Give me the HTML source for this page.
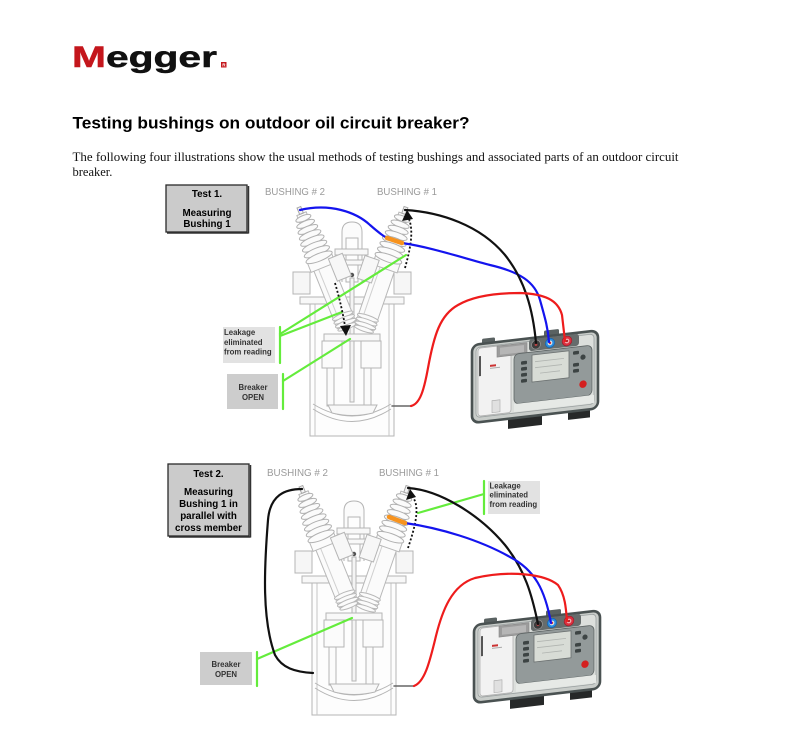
<!DOCTYPE html>
<html><head><meta charset="utf-8"><style>
html,body{margin:0;padding:0;background:#fff;}
svg{display:block;}
</style></head><body>
<svg width="787" height="729" viewBox="0 0 787 729" xmlns="http://www.w3.org/2000/svg">
<defs>
<g id="bush">
  <rect x="-10" y="58" width="20" height="66" fill="#fbfbfb" stroke="#b8b8b8"/>
  <line x1="-5" y1="62" x2="-5" y2="118" stroke="#d0d0d0"/>
  <ellipse cx="0" cy="114" rx="11" ry="2.4" fill="#fbfbfb" stroke="#b8b8b8"/>
  <ellipse cx="0" cy="118" rx="11" ry="2.4" fill="#fbfbfb" stroke="#b8b8b8"/>
  <ellipse cx="0" cy="122" rx="11" ry="2.4" fill="#fbfbfb" stroke="#b8b8b8"/>
  <ellipse cx="0" cy="126" rx="10" ry="2.2" fill="#fbfbfb" stroke="#b8b8b8"/>
  <rect x="-13" y="52" width="26" height="10" fill="#fbfbfb" stroke="#b8b8b8"/>
  <rect x="-5" y="4" width="10" height="50" fill="#fbfbfb" stroke="#b8b8b8"/>
  <ellipse cx="0" cy="9" rx="8" ry="2.8" fill="#fbfbfb" stroke="#b0b0b0"/>
  <ellipse cx="0" cy="15" rx="9.5" ry="3" fill="#fbfbfb" stroke="#b0b0b0"/>
  <ellipse cx="0" cy="21" rx="10.5" ry="3.2" fill="#fbfbfb" stroke="#b0b0b0"/>
  <ellipse cx="0" cy="27" rx="11.5" ry="3.4" fill="#fbfbfb" stroke="#b0b0b0"/>
  <ellipse cx="0" cy="33" rx="12.5" ry="3.5" fill="#fbfbfb" stroke="#b0b0b0"/>
  <ellipse cx="0" cy="39" rx="13" ry="3.6" fill="#fbfbfb" stroke="#b0b0b0"/>
  <ellipse cx="0" cy="45" rx="13.5" ry="3.7" fill="#fbfbfb" stroke="#b0b0b0"/>
  <ellipse cx="0" cy="51" rx="14" ry="3.8" fill="#fbfbfb" stroke="#b0b0b0"/>
  <rect x="-2" y="-3" width="4" height="7" fill="#f4f4f4" stroke="#a8a8a8"/>
</g>
<g id="brk">
  <rect x="310" y="300" width="84" height="136" fill="#fdfdfd" stroke="#b5b5b5"/>
  <line x1="315" y1="304" x2="315" y2="436" stroke="#c5c5c5"/>
  <line x1="389" y1="304" x2="389" y2="436" stroke="#c5c5c5"/>
  <rect x="300" y="297" width="104" height="7" fill="#f8f8f8" stroke="#b5b5b5"/>
  <rect x="293" y="272" width="17" height="22" fill="#f6f6f6" stroke="#b5b5b5"/>
  <rect x="394" y="272" width="17" height="22" fill="#f6f6f6" stroke="#b5b5b5"/>
  <path d="M342,282 V232 Q342,222 352,222 Q362,222 362,232 V282" fill="#fbfbfb" stroke="#b5b5b5"/>
  <rect x="346" y="238" width="12" height="44" fill="#fdfdfd" stroke="#b5b5b5"/>
  <rect x="335" y="249" width="33" height="6" fill="#f8f8f8" stroke="#b5b5b5"/>
  <rect x="339" y="260" width="26" height="5" fill="#f8f8f8" stroke="#b5b5b5"/>
  <rect x="350" y="278" width="4" height="124" fill="#f4f4f4" stroke="#b5b5b5"/>
  <circle cx="352" cy="275" r="2.2" fill="#555"/>
  <rect x="324" y="334" width="56" height="7" fill="#f8f8f8" stroke="#b5b5b5"/>
  <rect x="322" y="341" width="20" height="27" fill="#fbfbfb" stroke="#b5b5b5"/>
  <rect x="361" y="341" width="20" height="27" fill="#fbfbfb" stroke="#b5b5b5"/>
  <rect x="327" y="368" width="7" height="38" fill="#fbfbfb" stroke="#b5b5b5"/>
  <rect x="364" y="368" width="7" height="38" fill="#fbfbfb" stroke="#b5b5b5"/>
  <path d="M313,404 Q352,428 391,404" fill="none" stroke="#b5b5b5"/>
  <path d="M313,409 Q352,434 391,409" fill="none" stroke="#b5b5b5"/>
  <path d="M328,405 L377,405 L373,413 Q352,418 332,413 Z" fill="#f8f8f8" stroke="#b5b5b5"/>
  <g transform="translate(300,210) rotate(-22)">
    <use href="#bush"/>
    <rect x="8" y="56" width="15" height="24" fill="#f7f7f7" stroke="#b5b5b5"/>
  </g>
  <g transform="translate(405,210) rotate(19)">
    <use href="#bush"/>
    <rect x="-23" y="56" width="15" height="24" fill="#f7f7f7" stroke="#b5b5b5"/>
  </g>
</g>
<g id="meter">
  <g transform="translate(472,345) skewY(-6.6)">
    <rect x="36" y="66" width="34" height="22" fill="#262828"/>
    <rect x="96" y="66" width="22" height="20" fill="#262828"/>
    <rect x="10" y="-5" width="13" height="7" rx="1.5" fill="#5a6262"/>
    <rect x="72" y="-6" width="15" height="7" rx="1.5" fill="#5a6262"/>
    <rect x="0" y="0" width="126" height="78" rx="7" fill="#c9cdca" stroke="#4a5252" stroke-width="2.6"/>
    <rect x="4" y="3" width="118" height="70" rx="4" fill="#dcdfdc" stroke="#9aa0a0" stroke-width="0.8"/>
    <rect x="6" y="4" width="33" height="68" rx="3" fill="#f2f2f2" stroke="#b0b0b0" stroke-width="0.8"/>
    <rect x="7" y="12" width="2" height="20" fill="#555"/>
    <rect x="18" y="22" width="6" height="2" fill="#c33"/>
    <rect x="18" y="25" width="10" height="1" fill="#aaa"/>
    <rect x="25" y="4" width="30" height="11" fill="#9c9c9c" stroke="#888" stroke-width="0.6"/>
    <rect x="28" y="6" width="24" height="7" fill="#b6b6b6"/>
    <rect x="57" y="1" width="50" height="12" rx="3" fill="#666c6c"/>
    <circle cx="64" cy="7" r="4.5" fill="#3c3c3c" stroke="#999" stroke-width="0.7"/>
    <circle cx="64" cy="7" r="1.4" fill="#b44"/>
    <circle cx="78" cy="7" r="4.6" fill="#2b8ee0" stroke="#1464b0" stroke-width="0.7"/>
    <circle cx="78" cy="7" r="2.4" fill="#e4e4e4"/>
    <circle cx="78" cy="7" r="1.2" fill="#c33"/>
    <circle cx="95" cy="7" r="4.8" fill="#dc3040" stroke="#a01c28" stroke-width="0.7"/>
    <circle cx="95" cy="7" r="2.4" fill="#f2b0b0"/>
    <circle cx="95" cy="7" r="1.1" fill="#b01820"/>
    <rect x="42" y="14" width="78" height="50" rx="5" fill="#939a9a" stroke="#5d6464" stroke-width="0.8"/>
    <rect x="60" y="17" width="37" height="27" fill="#d8dcd6" stroke="#6b7070" stroke-width="0.8"/>
    <line x1="63" y1="24" x2="92" y2="24" stroke="#b0b4b0" stroke-width="0.8"/>
    <line x1="63" y1="30" x2="90" y2="30" stroke="#b0b4b0" stroke-width="0.8"/>
    <line x1="68" y1="36" x2="88" y2="36" stroke="#b0b4b0" stroke-width="0.8"/>
    <rect x="49" y="22" width="6" height="3.5" rx="1" fill="#3d4444"/>
    <rect x="49" y="28" width="6" height="3.5" rx="1" fill="#3d4444"/>
    <rect x="49" y="34" width="6" height="3.5" rx="1" fill="#3d4444"/>
    <rect x="49" y="40" width="6" height="3.5" rx="1" fill="#3d4444"/>
    <rect x="101" y="18" width="6" height="3.5" rx="1" fill="#3d4444"/>
    <rect x="101" y="30" width="6" height="3.5" rx="1" fill="#3d4444"/>
    <rect x="101" y="36" width="6" height="3.5" rx="1" fill="#3d4444"/>
    <circle cx="111" cy="25" r="2.6" fill="#3d4444"/>
    <circle cx="111" cy="52" r="3.7" fill="#d42020"/>
    <rect x="42" y="64" width="80" height="8" fill="#e6e9e6"/>
    <rect x="20" y="58" width="8" height="12" fill="#e0e0e0" stroke="#aaa" stroke-width="0.6"/>
  </g>
</g>
</defs>

<!-- Logo -->
<text x="72" y="67" font-family="Liberation Sans, Arial, sans-serif" font-weight="bold" font-size="29.5" textLength="145" lengthAdjust="spacingAndGlyphs" stroke-width="0.5"><tspan fill="#c4161c" stroke="#c4161c">M</tspan><tspan fill="#111" stroke="#111">egger</tspan></text>
<rect x="221" y="62" width="5.5" height="5.5" fill="#c4161c"/>
<text x="222.2" y="66.5" font-family="Liberation Sans, sans-serif" font-size="4.5" fill="#fff" font-weight="bold">R</text>

<!-- Title -->
<text x="72.5" y="128.5" font-family="Liberation Sans, Arial, sans-serif" font-weight="bold" font-size="16.5" fill="#000" textLength="397" lengthAdjust="spacingAndGlyphs">Testing bushings on outdoor oil circuit breaker?</text>

<!-- Paragraph -->
<text x="72.5" y="161" font-family="Liberation Serif, serif" font-size="12.5" fill="#111" textLength="606" lengthAdjust="spacingAndGlyphs">The following four illustrations show the usual methods of testing bushings and associated parts of an outdoor circuit</text>
<text x="72.5" y="176" font-family="Liberation Serif, serif" font-size="12.5" fill="#111">breaker.</text>

<!-- ===== TEST 1 ===== -->
<use href="#brk"/>
<use href="#meter"/>

<text x="265" y="195" font-family="Liberation Sans, sans-serif" font-size="10" fill="#9a9a9a" textLength="60" lengthAdjust="spacingAndGlyphs">BUSHING # 2</text>
<text x="377" y="195" font-family="Liberation Sans, sans-serif" font-size="10" fill="#9a9a9a" textLength="60" lengthAdjust="spacingAndGlyphs">BUSHING # 1</text>

<rect x="166" y="185" width="81" height="47" fill="#cbcbcb" stroke="#2a2a2a" stroke-width="1.3"/>
<line x1="167" y1="233" x2="248.5" y2="233" stroke="#333" stroke-width="1.5"/>
<line x1="248.5" y1="186" x2="248.5" y2="233.5" stroke="#333" stroke-width="1.5"/>
<g font-family="Liberation Sans, Arial, sans-serif" font-weight="bold" font-size="9.8" fill="#000" text-anchor="middle">
<text x="207" y="197">Test 1.</text>
<text x="207" y="216">Measuring</text>
<text x="207" y="227">Bushing 1</text>
</g>

<rect x="223" y="327" width="52" height="36" fill="#e2e2e2"/>
<g font-family="Liberation Sans, Arial, sans-serif" font-weight="bold" font-size="7.8" fill="#333">
<text x="224" y="335">Leakage</text>
<text x="224" y="345">eliminated</text>
<text x="224" y="354.5">from reading</text>
</g>
<rect x="227" y="374" width="51" height="35" fill="#cdcdcd"/>
<g font-family="Liberation Sans, Arial, sans-serif" font-weight="bold" font-size="7.8" fill="#333" text-anchor="middle">
<text x="253" y="390">Breaker</text>
<text x="253" y="400">OPEN</text>
</g>

<g stroke="#64ec3c" stroke-width="2.2" fill="none" stroke-linecap="round">
<line x1="280" y1="327" x2="280" y2="363"/>
<line x1="280" y1="334" x2="406" y2="255"/>
<line x1="280" y1="336" x2="342" y2="312"/>
<line x1="283" y1="374" x2="283" y2="409"/>
<line x1="283" y1="381" x2="350" y2="339"/>
</g>

<!-- dotted arrows test 1 -->
<path d="M405,268 C410,250 414,232 409,219" stroke="#111" stroke-width="1.8" stroke-dasharray="2,2" fill="none"/>
<polygon points="407,210 402,221 413,219" fill="#111"/>
<path d="M335,283 C340,300 343,314 345,326" stroke="#111" stroke-width="1.8" stroke-dasharray="2,2" fill="none"/>
<polygon points="346,336 340,326 351,325" fill="#111"/>

<!-- wires test 1 -->
<g fill="none" stroke-width="2.2" stroke-linecap="round">
<path d="M300,210 C330,203 356,212 370,225 C378,232 383,236 387,238" stroke="#1414ee"/>
<path d="M402,243 C430,247 460,257 490,265 C520,272 535,282 540,300 C545,318 548,328 549,342" stroke="#1414ee"/>
<line x1="387" y1="238" x2="402" y2="243" stroke="#f7931e" stroke-width="4.5"/>
<path d="M405,210 C440,212 480,225 505,255 C525,280 533,310 536,343" stroke="#111"/>
<line x1="392" y1="406" x2="411" y2="406" stroke="#666" stroke-width="1.5"/>
<path d="M411,406 C420,404 424,390 428,368 C434,335 440,315 458,305 C475,295 500,293 520,293 C545,294 558,300 562,315 L565,341" stroke="#ee1c1c"/>
</g>

<!-- ===== TEST 2 ===== -->
<use href="#brk" transform="translate(2,279)"/>
<use href="#meter" transform="translate(2,280)"/>

<text x="267" y="476" font-family="Liberation Sans, sans-serif" font-size="10" fill="#9a9a9a" textLength="61" lengthAdjust="spacingAndGlyphs">BUSHING # 2</text>
<text x="379" y="476" font-family="Liberation Sans, sans-serif" font-size="10" fill="#9a9a9a" textLength="60" lengthAdjust="spacingAndGlyphs">BUSHING # 1</text>

<rect x="168" y="464" width="81" height="72" fill="#cbcbcb" stroke="#2a2a2a" stroke-width="1.3"/>
<line x1="169" y1="537" x2="250.5" y2="537" stroke="#333" stroke-width="1.5"/>
<line x1="250.5" y1="465" x2="250.5" y2="537.5" stroke="#333" stroke-width="1.5"/>
<g font-family="Liberation Sans, Arial, sans-serif" font-weight="bold" font-size="9.8" fill="#000" text-anchor="middle">
<text x="208.5" y="477">Test 2.</text>
<text x="208.5" y="495">Measuring</text>
<text x="208.5" y="507">Bushing 1 in</text>
<text x="208.5" y="519">parallel with</text>
<text x="208.5" y="531">cross member</text>
</g>

<rect x="488" y="481" width="52" height="33" fill="#e2e2e2"/>
<g font-family="Liberation Sans, Arial, sans-serif" font-weight="bold" font-size="7.8" fill="#333">
<text x="489.5" y="488.5">Leakage</text>
<text x="489.5" y="497.5">eliminated</text>
<text x="489.5" y="507">from reading</text>
</g>
<rect x="200" y="652" width="52" height="33" fill="#cdcdcd"/>
<g font-family="Liberation Sans, Arial, sans-serif" font-weight="bold" font-size="7.8" fill="#333" text-anchor="middle">
<text x="226" y="667">Breaker</text>
<text x="226" y="677">OPEN</text>
</g>

<g stroke="#64ec3c" stroke-width="2.2" fill="none" stroke-linecap="round">
<line x1="484" y1="481" x2="484" y2="514"/>
<line x1="484" y1="494" x2="418" y2="513"/>
<line x1="257" y1="652" x2="257" y2="686"/>
<line x1="257" y1="659" x2="352" y2="618"/>
</g>

<path d="M408,548 C414,530 420,510 414,499" stroke="#111" stroke-width="1.8" stroke-dasharray="2,2" fill="none"/>
<polygon points="410,489 406,500 416,497" fill="#111"/>

<g fill="none" stroke-width="2.2" stroke-linecap="round">
<path d="M302,489 C285,489 270,495 268,520 C264,570 262,620 275,655 C282,668 295,672 313,673" stroke="#111"/>
<path d="M408,488 C440,490 480,515 505,545 C525,570 532,595 538,624" stroke="#111"/>
<path d="M405,523 C440,528 480,540 510,557 C535,570 545,590 551,623" stroke="#1414ee"/>
<line x1="389" y1="517" x2="405" y2="523" stroke="#f7931e" stroke-width="4.5"/>
<line x1="394" y1="686" x2="414" y2="686" stroke="#666" stroke-width="1.5"/>
<path d="M414,686 C425,682 430,660 435,640 C442,610 452,585 475,578 C510,570 545,574 558,585 C565,595 566,608 567,621" stroke="#ee1c1c"/>
</g>
</svg>
</body></html>
